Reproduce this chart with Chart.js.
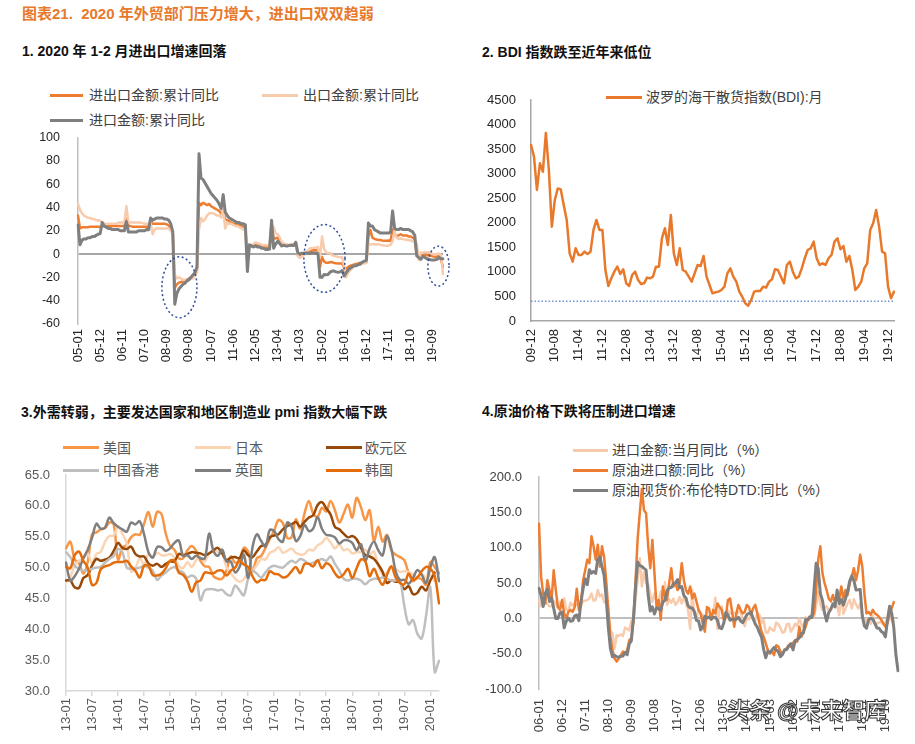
<!DOCTYPE html>
<html><head><meta charset="utf-8">
<script src="https://cdn.jsdelivr.net/npm/chart.js@4.4.1/dist/chart.umd.min.js"></script>
<style>
body{margin:0;background:#fff;}
#page{position:relative;width:915px;height:744px;overflow:hidden;background:#fff;font-family:'Liberation Sans','Noto Sans CJK SC',sans-serif;}
.t{position:absolute;white-space:nowrap;}
.title{font-size:15px;font-weight:bold;color:#E8792B;line-height:18px;}
.sub{font-size:14px;font-weight:bold;color:#111;line-height:17px;}
.lg{font-size:14px;color:#404040;line-height:18px;}
.ln{position:absolute;height:3px;}
.cv{position:absolute;}
.wm{font-size:22px;font-weight:bold;color:#fff;-webkit-text-stroke:1px #333;line-height:26px;}
</style></head>
<body><div id="page">
<div class="t title" style="left:22px;top:5px">图表21.&nbsp; 2020 年外贸部门压力增大，进出口双双趋弱</div>

<div class="t sub" style="left:22px;top:43px">1. 2020 年 1-2 月进出口增速回落</div>
<div class="ln" style="left:50px;top:93.5px;width:33px;background:#ED7D31"></div>
<div class="t lg" style="left:89px;top:86px">进出口金额:累计同比</div>
<div class="ln" style="left:262px;top:93.5px;width:36px;background:#F8CBAD"></div>
<div class="t lg" style="left:303px;top:86px">出口金额:累计同比</div>
<div class="ln" style="left:50px;top:118.5px;width:33px;background:#7F7F7F"></div>
<div class="t lg" style="left:89px;top:111px">进口金额:累计同比</div>

<div class="t sub" style="left:482px;top:44px">2. BDI 指数跌至近年来低位</div>
<div class="ln" style="left:606px;top:95.5px;width:36px;background:#E8792B"></div>
<div class="t lg" style="left:646px;top:88px">波罗的海干散货指数(BDI):月</div>

<div class="t sub" style="left:21px;top:404px">3.外需转弱，主要发达国家和地区制造业 pmi 指数大幅下跌</div>
<div class="ln" style="left:63px;top:446px;width:36px;background:#F79646"></div>
<div class="t lg" style="left:103px;top:439px;color:#595959">美国</div>
<div class="ln" style="left:195px;top:446px;width:36px;background:#FBD4B4"></div>
<div class="t lg" style="left:235px;top:439px;color:#595959">日本</div>
<div class="ln" style="left:326px;top:446px;width:36px;background:#984807"></div>
<div class="t lg" style="left:365px;top:439px;color:#595959">欧元区</div>
<div class="ln" style="left:63px;top:468.5px;width:36px;background:#BFBFBF"></div>
<div class="t lg" style="left:103px;top:461px;color:#595959">中国香港</div>
<div class="ln" style="left:195px;top:468.5px;width:36px;background:#7F7F7F"></div>
<div class="t lg" style="left:235px;top:461px;color:#595959">英国</div>
<div class="ln" style="left:326px;top:468.5px;width:36px;background:#E46C0A"></div>
<div class="t lg" style="left:365px;top:461px;color:#595959">韩国</div>

<div class="t sub" style="left:482px;top:403px">4.原油价格下跌将压制进口增速</div>
<div class="ln" style="left:573px;top:448.5px;width:35px;background:#F8CBAD"></div>
<div class="t lg" style="left:612px;top:441px">进口金额:当月同比（%）</div>
<div class="ln" style="left:573px;top:468.5px;width:35px;background:#ED7D31"></div>
<div class="t lg" style="left:612px;top:461px">原油进口额:同比（%）</div>
<div class="ln" style="left:573px;top:488.5px;width:35px;background:#7F7F7F"></div>
<div class="t lg" style="left:612px;top:481px">原油现货价:布伦特DTD:同比（%）</div>

<canvas id="c1" class="cv" width="460" height="250" style="left:0;top:130px;width:460px;height:250px"></canvas>
<canvas id="c2" class="cv" width="455" height="290" style="left:460px;top:90px;width:455px;height:290px"></canvas>
<canvas id="c3" class="cv" width="460" height="279" style="left:0;top:465px;width:460px;height:279px"></canvas>
<canvas id="c4" class="cv" width="455" height="279" style="left:460px;top:465px;width:455px;height:279px"></canvas>

<div class="t wm" style="left:727px;top:698px">头条 @未来智库</div>
</div>
<script>
// ---------- categories ----------
function monthLabels(y0, m0, n) {
  const out = []; let y = y0, m = m0;
  for (let k = 0; k < n; k++) {
    out.push(String(y % 100).padStart(2, '0') + '-' + String(m).padStart(2, '0'));
    m++; if (m > 12) { m = 1; y++; }
  }
  return out;
}
const months1 = monthLabels(2005, 1, 182);
const months2 = monthLabels(2009, 12, 123);
const months3 = monthLabels(2013, 1, 87);
const months4 = monthLabels(2006, 1, 172);

// ---------- panel 1: cumulative YoY (%) ----------
const tradeCumYoY = [
33,22,23,23,23,23,23.5,23.5,23.5,23.5,23.5,23.2,
24,24,24,24,24,24,24,24,24,24,24,23.8,
30,24,24,23.5,23.5,23.5,23.5,23.5,23.5,23.5,23.5,23.5,
29,26,26,26,26,26,26,26,25.5,24.5,22.5,18,
-29,-26,-24.5,-24,-23.5,-23,-22,-21,-20,-18,-16,-14,
44,42,44,43,42,43,41,40,39,38,37,34.7,
37,30,29,28,27,26,26,25.5,25,24.5,23.5,22.5,
-8,7,7,7,7.5,8,7,6,6,6,6,6.2,
26,13.4,13.4,14,11,8.6,8,8,7.7,7.6,7.7,7.6,
10,-1,-1,-1,0,1,2,2,3,3.5,3,3.4,
-10.8,-2.5,-6.4,-7.5,-7.5,-6.9,-7,-7.6,-7.9,-8.1,-8,-8,
-12,-12.5,-11,-10,-9.5,-9,-8.5,-8,-7.5,-7.3,-7,-6.8,
15,20.6,14,13,12.5,12,12,11.5,11.5,11.5,11.6,11.4,
21,17,16,16,17,16,16,16,15,15,14,12.6,
-1.5,-2.5,-1.5,0,-1,-1,-1,-1.5,-2,-2.4,-1.9,-1,
-5,-11];
const exportCumYoY = [
43,38,35,33,32,31,31,30,30,29,29,28.4,
27,26,26,26,26,26,26,26,27,27,27,27.2,
41,27,27,27,27,27,27,27,26.5,26,26,25.7,
27,17,21,22,22,22,22,22,22,22,20,17.2,
-17.5,-21,-20,-21,-22,-22,-22,-22,-21,-21,-19,-16,
21,31,28,30,33,35,35,35,34,33,33,31.3,
38,22,27,26,26,25,24,24,23,22,21,20.3,
-0.5,7,7.6,8.5,10,9.2,8.8,8,7.4,7.8,7.3,7.9,
25,23,18,17,14.5,10.4,9,8.7,8,7.8,8.6,7.9,
10.6,-1.6,-3.4,-2,-1,1,3,4.9,5,5.5,5.5,6,
-3.3,15,4.7,1.4,0.6,1,-1,-1.6,-2,-2.5,-2.7,-2.8,
-11,-20,-16,-14,-12,-10,-10,-9,-9,-8,-8,-7.7,
7.9,8.2,8.5,8.5,8.3,8.5,7.9,7.5,7.3,7.2,7.2,7.9,
11.1,20,14,13,13.4,12.8,12.5,12.3,12,11.6,10.9,9.9,
9,-5,1.4,1,1.8,1.5,1.5,0.7,-0.1,-0.2,-0.3,0.5,
-1,-17.2];
const importCumYoY = [
25,8,12,13,13,14,14,15,15,16,17,17.6,
27,24,23,22,22,21,21,21,21,20,20,20,
28,19,19,19,19,19,20,20,20,20,21,20.8,
31,29,30,31,31,31,31,30,30,29,26,19,
-43,-34,-30,-28,-26,-25,-23,-22,-20,-18,-16,-11,
86,65,64,61,58,55,52,50,48,46,43,39,
51,36,33,31,30,29,28,27,27,26,26,25,
-15,8,7,6,7,6,6,5,5,4,4,4.3,
29,5,8.5,11,9,7,7.5,7,7,7.5,7.5,7.3,
10,1,0,0.8,0.8,1,1,0.5,1,1,0.5,0.4,
-19.9,-20,-17.6,-17.8,-17.6,-15.5,-14.6,-14.6,-15.3,-15.6,-15.3,-14.1,
-18.8,-16,-13.5,-12,-11,-10,-10,-9,-8.5,-7,-6,-5.5,
26.7,24,24,21,20,19,18,18,18,18,18,18.7,
37,22,21,21,22,21,21,21,21,20,19,16,
-1.5,-3,-4.5,-2,-3,-4,-4.5,-5,-5,-5,-4.5,-2.8,
-4,-4];
const yTicks1 = {min: -60, max: 100, step: 20};
// highlighted periods (category index range, value range)
const highlights1 = [
  {from: 41.6, to: 59, top: -2.4, bottom: -54.6},
  {from: 112, to: 132.4, top: 25.3, bottom: -32.8},
  {from: 173.5, to: 184, top: 6.8, bottom: -27.5}
];

// ---------- panel 2: BDI monthly ----------
const bdiMonthly = [
3585,3350,2670,3210,3040,3830,3075,1920,2465,2700,
2680,2360,2057,1378,1208,1480,1345,1345,1412,1365,
1412,1854,2057,1854,1854,1039,713,869,1005,1107,
957,1052,767,713,937,1005,835,754,767,883,
869,903,1107,1107,1684,1888,1548,2159,1378,1141,
1480,1039,1005,903,801,971,1141,1120,1324,903,
733,564,584,598,631,699,971,1073,903,801,
598,496,360,312,428,598,611,611,699,679,
801,849,1052,1039,903,767,1141,1208,1005,869,
903,1073,1277,1446,1480,1616,1277,1141,1175,1141,
1277,1345,1616,1684,1460,1528,1208,1324,1039,631,
699,801,1073,1175,1854,1989,2261,1922,1412,1378,
699,462,598];
const bdiRefLevel = 400;
const yTicks2 = {min: 0, max: 4500, step: 500};

// ---------- panel 3: manufacturing PMI ----------
const pmiUS = [
53.1,54.2,51.3,50.7,49.0,50.9,55.4,55.7,56.2,56.4,57.3,57.0,
51.3,53.2,53.7,54.9,55.4,55.3,57.1,59.0,56.6,59.0,58.7,55.5,
53.5,52.9,51.5,51.5,52.8,53.5,52.7,51.1,50.2,50.1,48.6,48.2,
48.2,49.5,51.8,50.8,51.3,53.2,52.6,49.4,51.5,51.9,53.2,54.7,
56.0,57.7,57.2,54.8,54.9,57.8,56.3,58.8,60.8,58.7,58.2,59.7,
59.1,60.8,59.3,57.3,58.7,60.2,58.1,61.3,59.8,57.7,59.3,54.3,
56.6,54.2,55.3,52.8,52.1,51.7,51.2,49.1,47.8,48.3,48.1,47.2,
50.9,50.1,49.1];
const pmiJapan = [
47.7,48.5,50.4,51.1,51.5,52.3,50.7,52.2,52.5,54.2,55.1,55.2,
56.6,55.5,53.9,49.4,49.9,51.5,50.5,52.2,51.7,52.4,52.0,52.0,
52.2,51.6,50.3,49.9,50.9,50.1,51.2,51.7,51.0,52.4,52.6,52.6,
52.3,50.1,49.1,48.2,47.7,48.1,49.3,49.5,50.4,51.4,51.3,52.4,
52.7,53.3,52.4,52.7,53.1,52.4,52.1,52.2,52.9,52.8,53.6,54.0,
54.8,54.1,53.1,53.8,52.8,53.0,52.3,52.5,52.5,52.9,52.2,52.6,
50.3,48.9,49.2,50.2,49.8,49.3,49.4,49.3,48.9,48.4,48.9,48.4,
48.8,47.8,null];
const pmiEuro = [
47.9,47.9,46.8,46.7,48.3,48.8,50.3,51.4,51.1,51.3,51.6,52.7,
54.0,53.2,53.0,53.4,52.2,51.8,51.8,50.7,50.3,50.6,50.1,50.6,
51.0,51.0,52.2,52.0,52.2,52.5,52.4,52.3,52.0,52.3,52.8,53.2,
52.3,51.2,51.6,51.7,51.5,52.8,52.0,51.7,52.6,53.5,53.7,54.9,
55.2,55.4,56.2,56.7,57.0,57.4,56.6,57.4,58.1,58.5,60.1,60.6,
59.6,58.6,56.6,56.2,55.5,54.9,55.1,54.6,53.2,52.0,51.8,51.4,
50.5,49.3,47.5,47.9,47.7,47.6,46.5,47.0,45.7,45.9,46.9,46.3,
47.9,49.2,null];
const pmiHK = [
52.5,51.7,50.3,49.8,49.5,49.6,49.8,50.0,50.1,50.8,51.4,51.9,
53.0,52.5,50.0,49.8,49.8,50.0,50.3,50.0,49.5,48.0,48.7,49.2,
49.8,50.1,49.5,49.2,48.4,48.7,48.2,44.7,46.3,46.5,46.5,46.3,
46.4,45.7,45.5,47.1,46.3,45.5,48.2,49.5,49.0,48.4,49.2,50.0,
50.3,50.1,50.0,50.6,51.1,50.8,51.4,51.1,50.6,50.8,51.1,51.4,
51.1,51.8,50.6,49.5,48.2,47.9,48.2,48.2,47.9,47.3,47.9,48.2,
48.2,48.4,48.2,47.9,47.9,47.9,43.8,40.8,41.5,39.3,38.5,42.1,
46.8,33.1,34.9];
const pmiUK = [
50.8,47.9,48.6,49.8,51.5,52.9,54.8,57.1,56.3,56.5,58.1,57.2,
56.6,56.2,55.8,57.3,57.0,57.5,55.4,52.5,51.6,53.3,53.3,52.7,
53.1,54.0,54.4,51.9,52.0,51.4,51.9,51.5,51.5,55.5,52.7,51.9,
52.9,51.0,51.0,49.2,50.1,52.1,48.3,53.3,55.4,54.3,53.4,56.1,
55.9,54.6,54.2,57.3,56.7,54.3,55.1,56.9,55.9,56.3,58.2,56.3,
55.3,55.2,54.9,53.9,54.4,54.4,54.0,52.8,53.8,51.1,53.1,54.2,
52.8,52.0,55.1,53.1,49.4,48.0,48.0,47.4,48.3,49.6,48.9,47.5,
50.0,51.7,47.8];
const pmiKorea = [
50.1,49.9,52.0,52.6,51.1,50.0,47.2,47.5,49.7,50.2,50.4,50.8,
50.9,50.9,51.1,50.2,49.5,48.4,50.3,50.3,48.8,48.7,49.0,49.9,
51.1,51.1,49.2,48.8,47.8,46.1,47.6,47.9,49.2,49.1,49.1,49.5,
49.5,48.7,49.5,50.0,51.1,50.5,50.1,48.6,47.6,48.0,48.0,49.4,
49.0,48.9,48.4,48.6,49.4,50.1,49.1,50.6,50.6,50.2,51.2,49.9,
50.7,50.3,49.1,48.4,48.9,49.8,48.3,49.9,51.3,51.0,48.6,49.8,
48.3,47.2,48.8,50.2,48.4,47.5,47.3,49.0,48.0,48.4,49.4,50.1,
49.8,48.7,44.2];
const yTicks3 = {min: 30, max: 65, step: 5};

// ---------- panel 4: YoY (%) ----------
const importMonthlyYoY = [
25,17,22,24,20,17,17,25,21,15,23,16,
28,12,11,22,18,21,19,22,17,25,25,26,
28,35,25,26,40,31,34,23,21,16,-18,-21,
-43,-24,-25,-23,-25,-13,-15,-17,-3.5,-6.4,27,56,
85,45,66,50,48,34,23,35,24,25,38,26,
51,19,27,22,28,19,23,30,21,29,22,12,
-15,40,5,0.3,13,6,4.7,-2.6,2.4,2.4,0,6,
29,-15,14,17,-0.3,-0.7,11,7,7.4,7.6,5.3,8.3,
10,-1.6,-11,0.8,-1.6,5.5,-1.6,-2.4,7,4.6,-6.7,-2.4,
-20,-20.5,-12.7,-16.2,-17.6,-6.1,-8.1,-13.8,-20.4,-18.8,-8.7,-7.6,
-18.8,-13.8,-7.6,-10.9,-0.4,-8.4,-12.5,1.5,-1.9,-1.4,6.7,3.1,
16.7,38,20,12,15,17,11,13,19,17,18,4.5,
37,6.3,14,21.5,26,14,27,20,14,21,3,-7.6,
-1.5,-5.2,-7.6,4,-8.5,-7.3,-5.6,-5.6,-8.5,-6.4,0.3,16.3,
-4,-4,null,null];
const crudeImportYoY = [
134,59,35,21,54,40,26,68,40,16,12,26,
7,0,9,12,9,16,42,12,21,54,68,83,
78,116,102,83,104,73,102,87,54,12,-26,-45,
-57,-61,-57,-52,-47,-50,-45,-31,-28,-2,54,113,
149,183,153,149,102,71,111,64,16,26,-2,45,
31,26,50,71,45,50,40,50,78,54,40,35,
45,28,35,24,12,7,-7,-19,16,14,-2,12,
7,21,16,12,-2,2,26,28,9,-12,7,19,
12,7,9,19,16,5,14,19,7,-7,-19,-26,
-35,-45,-50,-47,-52,-38,-40,-47,-50,-45,-42,-38,
-40,-35,-31,-33,-12,-26,-19,-12,-2,0,2,7,
40,83,102,64,50,40,28,24,33,21,35,28,
45,28,40,33,50,59,71,54,68,90,73,35,
7,9,5,12,7,5,2,-2,-7,-12,-7,7,
14,23,null,null];
const brentYoY = [
42.5,32.3,16.8,35.5,40.8,23.9,29.1,14.2,-0.2,-0.3,7.8,9.0,
-13.5,-4.0,0.2,-4.1,-3.6,3.5,4.7,-3.3,23.6,42.0,55.7,47.6,
68.8,64.0,66.3,63.5,83.6,86.7,73.4,60.9,28.5,-12.1,-42.5,-54.5,
-52.3,-54.5,-54.7,-53.8,-53.3,-48.5,-51.5,-36.3,-31.7,0.5,44.7,79.6,
74.7,73.5,70.7,68.6,33.0,10.3,16.2,6.1,14.9,13.3,11.3,22.9,
25.6,39.0,43.2,43.6,48.7,50.3,54.8,43.3,45.0,32.2,28.9,17.5,
15.0,14.7,9.6,-2.8,-3.7,-16.3,-12.1,2.9,0.2,1.7,-0.9,1.2,
1.4,-2.7,-13.5,-14.6,-7.0,8.1,4.7,-2.7,-1.6,-1.8,-1.3,1.5,
-3.7,-6.2,-0.9,5.4,6.9,8.7,-0.6,-7.9,-12.7,-20.2,-26.5,-43.8,
-55.8,-46.6,-47.9,-44.8,-41.1,-44.9,-47.1,-54.2,-51.0,-44.6,-44.2,-39.0,
-35.8,-44.6,-31.8,-30.1,-27.7,-21.7,-20.5,-1.5,-2.1,2.3,1.1,40.3,
77.9,70.8,35.1,25.7,7.7,-3.9,8.0,12.9,20.6,16.2,40.0,20.8,
26.6,18.7,27.9,37.9,52.9,60.3,53.2,40.2,40.4,40.9,3.3,-10.9,
-14.0,-2.0,0.2,-1.2,-7.3,-13.7,-14.0,-18.6,-20.4,-26.3,-2.5,17.2,
7.1,-13.0,-51.6,-74.2];
const yTicks4 = {min: -100, max: 200, step: 50};

// ---------- rendering ----------
Chart.defaults.font.family = "'Liberation Sans','Noto Sans CJK SC',sans-serif";
Chart.defaults.font.size = 13;
const CLEAR = 'rgba(0,0,0,0)';

const ellipsePlugin = {
  id: 'ellipses',
  afterDatasetsDraw(chart) {
    const {ctx, scales: {x, y}} = chart;
    ctx.save();
    ctx.strokeStyle = '#2F4F9A';
    ctx.lineWidth = 1.5;
    ctx.setLineDash([2, 2.5]);
    for (const r of highlights1) {
      const x0 = x.getPixelForValue(r.from), x1 = x.getPixelForValue(r.to);
      const y0 = y.getPixelForValue(r.top), y1 = y.getPixelForValue(r.bottom);
      ctx.beginPath();
      ctx.ellipse((x0 + x1) / 2, (y0 + y1) / 2, Math.abs(x1 - x0) / 2, Math.abs(y1 - y0) / 2, 0, 0, Math.PI * 2);
      ctx.stroke();
    }
    ctx.restore();
  }
};

function baseOptions(pad) {
  return {
    responsive: false, animation: false, events: [],
    layout: {padding: pad},
    plugins: {legend: {display: false}, tooltip: {enabled: false}},
    elements: {point: {radius: 0}, line: {borderWidth: 2.5, tension: 0, borderJoinStyle: 'round', borderCapStyle: 'round'}}
  };
}
// gap between axis and labels is made with invisible tick marks (ticks.padding would also pad the plot area)
function xCat(step, height, gap, color, extra) {
  return Object.assign({
    type: 'category', offset: false,
    grid: {display: true, drawOnChartArea: false, drawTicks: true, tickLength: gap, color: CLEAR, tickColor: CLEAR},
    border: {display: false},
    ticks: {autoSkip: false, minRotation: 90, maxRotation: 90, padding: 0, color: color, font: {size: 13},
      callback: function (v, i) { return i % step === 0 ? this.getLabelForValue(v) : null; }},
    afterFit: s => { s.height = height; }
  }, extra || {});
}
function yLin(t, gap, width, color, fontSize, fmt, gridColor, borderColor) {
  return {
    min: t.min, max: t.max,
    ticks: {stepSize: t.step, padding: 0, color: color, font: {size: fontSize}, callback: fmt},
    grid: {display: true, drawTicks: true, tickLength: gap, tickColor: CLEAR, lineWidth: 2,
      color: c => (gridColor && c.tick && c.tick.value === 0) ? gridColor : CLEAR},
    border: {display: true, color: borderColor, width: 1.5},
    afterFit: s => { s.width = width; }
  };
}
function line(label, data, color, order, extra) {
  return Object.assign({label, data, borderColor: color, backgroundColor: color, fill: false, order, pointRadius: 0}, extra || {});
}

// Panel 1
new Chart(document.getElementById('c1'), {
  type: 'line',
  data: {labels: months1, datasets: [
    line('进出口金额:累计同比', tradeCumYoY, '#ED7D31', 2),
    line('出口金额:累计同比', exportCumYoY, '#F8CBAD', 1),
    line('进口金额:累计同比', importCumYoY, '#7F7F7F', 0, {borderWidth: 3})
  ]},
  options: Object.assign(baseOptions({top: 7, right: 17, left: 0, bottom: 0}), {
    scales: {
      x: xCat(11, 56, 5, '#262626'),
      y: yLin(yTicks1, 18, 78, '#262626', 12.5, v => String(v), '#A6A6A6', '#BFBFBF')
    }
  }),
  plugins: [ellipsePlugin]
});

// Panel 2
new Chart(document.getElementById('c2'), {
  type: 'line',
  data: {labels: months2, datasets: [
    line('波罗的海干散货指数(BDI):月', bdiMonthly, '#E8792B', 0),
    line('参考水平', [{x: months2[0], y: bdiRefLevel}, {x: months2[months2.length - 1], y: bdiRefLevel}], '#6F93D6', 1,
      {borderWidth: 1.5, borderDash: [1.5, 2], borderCapStyle: 'butt'})
  ]},
  options: Object.assign(baseOptions({top: 10, right: 21, left: 0, bottom: 0}), {
    scales: {
      x: xCat(8, 59, 8, '#262626', {border: {display: true, color: '#A6A6A6', width: 1.5}}),
      y: yLin(yTicks2, 15, 71, '#262626', 13, v => String(v), null, '#A6A6A6')
    }
  })
});

// Panel 3
const x3 = xCat(6, 53, 5, '#595959', {border: {display: true, color: '#D9D9D9', width: 1.5}});
x3.grid = {display: true, drawOnChartArea: false, drawTicks: true, tickLength: 5, color: '#D9D9D9', tickColor: '#D9D9D9', lineWidth: 1.5};
x3.ticks.padding = 2;
new Chart(document.getElementById('c3'), {
  type: 'line',
  data: {labels: months3, datasets: [
    line('美国', pmiUS, '#F79646', 5),
    line('日本', pmiJapan, '#FBD4B4', 4),
    line('欧元区', pmiEuro, '#984807', 3),
    line('中国香港', pmiHK, '#BFBFBF', 2),
    line('英国', pmiUK, '#7F7F7F', 1),
    line('韩国', pmiKorea, '#E46C0A', 0)
  ]},
  options: Object.assign(baseOptions({top: 10, right: 21, left: 0, bottom: 0}), {
    elements: {point: {radius: 0}, line: {borderWidth: 2.5, tension: 0.35, borderJoinStyle: 'round', borderCapStyle: 'round'}},
    scales: {
      x: x3,
      y: yLin(yTicks3, 16, 66, '#595959', 13, v => Number(v).toFixed(1), null, '#D9D9D9')
    }
  })
});

// Panel 4
new Chart(document.getElementById('c4'), {
  type: 'line',
  data: {labels: months4, datasets: [
    line('进口金额:当月同比（%）', importMonthlyYoY, '#F8CBAD', 2),
    line('原油进口额:同比（%）', crudeImportYoY, '#ED7D31', 1),
    line('原油现货价:布伦特DTD:同比（%）', brentYoY, '#7F7F7F', 0, {borderWidth: 3})
  ]},
  options: Object.assign(baseOptions({top: 12, right: 17, left: 0, bottom: 0}), {
    scales: {
      x: xCat(11, 55, 10, '#404040'),
      y: yLin(yTicks4, 17, 79, '#404040', 13, v => Number(v).toFixed(1), '#BFBFBF', '#BFBFBF')
    }
  })
});
</script>
</body></html>
